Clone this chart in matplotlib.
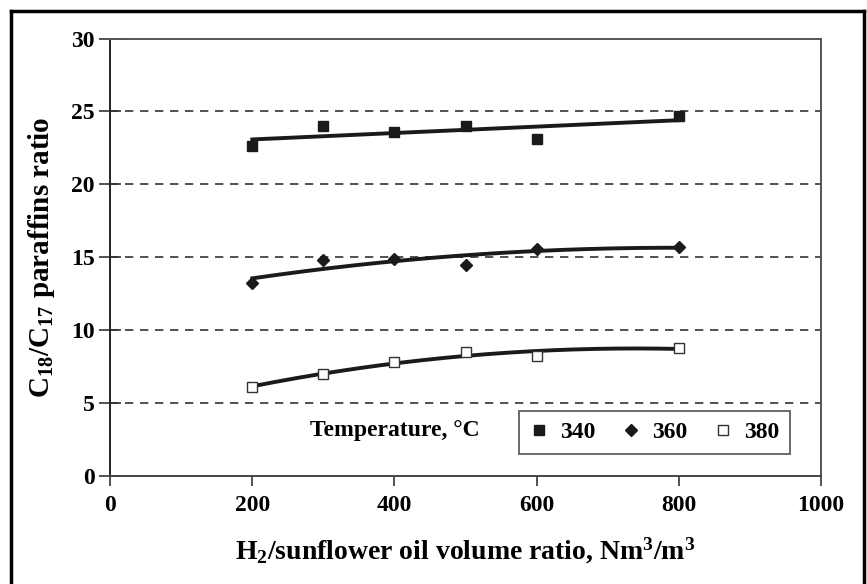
import matplotlib.pyplot as plt
from matplotlib.lines import Line2D
import numpy as np

plt.rcParams['font.family'] = ['Liberation Serif', 'DejaVu Serif']
plt.rcParams['mathtext.fontset'] = 'custom'
plt.rcParams['mathtext.rm'] = 'Liberation Serif:bold'
plt.rcParams['mathtext.it'] = 'Liberation Serif:bold'
plt.rcParams['mathtext.bf'] = 'Liberation Serif:bold'

# H2/oil volume ratio and C18/C17 ratio at each temperature
h2_ratio = [200, 300, 400, 500, 600, 800]
ratio_340 = [22.6, 24.0, 23.6, 24.0, 23.1, 24.7]
ratio_360 = [13.2, 14.8, 14.9, 14.5, 15.6, 15.7]
ratio_380 = [6.1, 7.0, 7.8, 8.5, 8.2, 8.8]
temperatures = ['340', '360', '380']
fit_degree = [1, 2, 2]

fig = plt.figure(figsize=(8.67, 5.84), dpi=100)
ax = fig.add_axes([0.127, 0.185, 0.820, 0.749])

series = [ratio_340, ratio_360, ratio_380]
markers = [dict(marker='s', ms=7, mfc='#1a1a1a', mec='#1a1a1a'),
           dict(marker='D', ms=6, mfc='#1a1a1a', mec='#1a1a1a'),
           dict(marker='s', ms=7, mfc='white', mec='#333333', mew=1.0)]

# points plus a polynomial trendline per temperature
x = np.array(h2_ratio, dtype=float)
xs = np.linspace(x.min(), x.max(), 200)
for y, deg, mk in zip(series, fit_degree, markers):
    y = np.array(y)
    coef = np.polyfit(x, y, deg)
    ax.plot(xs, np.polyval(coef, xs), color='#1a1a1a', lw=2.8, zorder=2)
    ax.plot(x, y, ls='none', zorder=3, **mk)

ax.set_xlim(0, 1000)
ax.set_ylim(0, 30)
ax.set_xticks(range(0, 1001, 200))
ax.set_yticks(range(0, 31, 5))
for yv in range(5, 30, 5):
    ax.axhline(yv, color='#333333', lw=1.2, ls=(0, (5, 4)), zorder=1)

for s in ax.spines.values():
    s.set_color('#555555')
    s.set_linewidth(1.4)
ax.spines['left'].set_color('#222222')
ax.spines['bottom'].set_color('#444444')

ax.tick_params(axis='y', direction='inout', length=16, width=1.2, color='#333333',
               labelsize=17, pad=3)
ax.tick_params(axis='x', direction='out', length=7, width=1.2, color='#333333',
               labelsize=17, pad=7)
for lab in ax.get_xticklabels() + ax.get_yticklabels():
    lab.set_fontweight('bold')

ax.set_xlabel(r'H$_2$/sunflower oil volume ratio, Nm$^3$/m$^3$',
              fontsize=20, fontweight='bold', labelpad=14)
ax.set_ylabel(r'C$_{18}$/C$_{17}$ paraffins ratio',
              fontsize=21, fontweight='bold', labelpad=10)

handles = [Line2D([], [], ls='none', **mk) for mk in markers]
leg = ax.legend(handles, temperatures, loc='lower right',
                bbox_to_anchor=(0.956, 0.050), borderaxespad=0, ncol=3,
                frameon=True, fancybox=False, edgecolor='#444444',
                handlelength=0.8, handletextpad=0.5, columnspacing=1.1,
                borderpad=0.45, prop={'size': 17, 'weight': 'bold'})
leg.get_frame().set_linewidth(1.4)

ax.text(0.4, 0.105, 'Temperature, °C', transform=ax.transAxes,
        ha='center', va='center', fontsize=17, fontweight='bold')

# outer frame
for xy in [([0.013, 0.013], [0.0, 0.981]), ([0.013, 0.997], [0.981, 0.981]),
           ([0.997, 0.997], [0.0, 0.981])]:
    fig.add_artist(Line2D(xy[0], xy[1], color='black', lw=2.5,
                          transform=fig.transFigure))

fig.savefig('out.png', dpi=100, facecolor='white')
